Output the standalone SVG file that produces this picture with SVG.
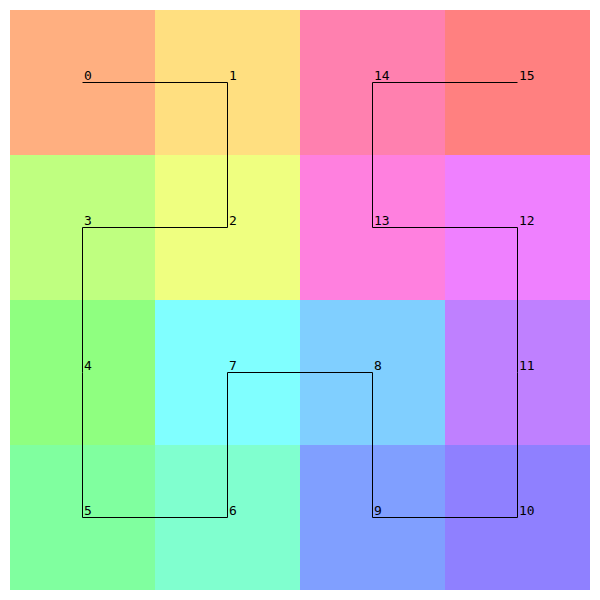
<svg xmlns="http://www.w3.org/2000/svg" width="600" height="600" viewBox="0 0 600 600">
<style>
.lbl{font-family:"DejaVu Sans Mono","Liberation Mono",monospace;font-size:13px;fill:#000}
.curve{fill:none;stroke:#000;stroke-width:1}
</style>
<rect width="600" height="600" fill="#fff"/>
<g id="cells">
<rect x="10" y="10" width="145" height="145" fill="hsl(22.5,100%,75%)"/>
<rect x="155" y="10" width="145" height="145" fill="hsl(45,100%,75%)"/>
<rect x="155" y="155" width="145" height="145" fill="hsl(67.5,100%,75%)"/>
<rect x="10" y="155" width="145" height="145" fill="hsl(90,100%,75%)"/>
<rect x="10" y="300" width="145" height="145" fill="hsl(112.5,100%,75%)"/>
<rect x="10" y="445" width="145" height="145" fill="hsl(135,100%,75%)"/>
<rect x="155" y="445" width="145" height="145" fill="hsl(157.5,100%,75%)"/>
<rect x="155" y="300" width="145" height="145" fill="hsl(180,100%,75%)"/>
<rect x="300" y="300" width="145" height="145" fill="hsl(202.5,100%,75%)"/>
<rect x="300" y="445" width="145" height="145" fill="hsl(225,100%,75%)"/>
<rect x="445" y="445" width="145" height="145" fill="hsl(247.5,100%,75%)"/>
<rect x="445" y="300" width="145" height="145" fill="hsl(270,100%,75%)"/>
<rect x="445" y="155" width="145" height="145" fill="hsl(292.5,100%,75%)"/>
<rect x="300" y="155" width="145" height="145" fill="hsl(315,100%,75%)"/>
<rect x="300" y="10" width="145" height="145" fill="hsl(337.5,100%,75%)"/>
<rect x="445" y="10" width="145" height="145" fill="hsl(360,100%,75%)"/>
</g>
<g id="connectors">
<polyline class="curve" points="82.5,82.5 227.5,82.5 227.5,227.5 82.5,227.5 82.5,372.5 82.5,517.5 227.5,517.5 227.5,372.5 372.5,372.5 372.5,517.5 517.5,517.5 517.5,372.5 517.5,227.5 372.5,227.5 372.5,82.5 517.5,82.5"/>
</g>
<g id="n0"><text class="lbl" x="84" y="80">0</text></g>
<g id="n1"><text class="lbl" x="229" y="80">1</text></g>
<g id="n2"><text class="lbl" x="229" y="225">2</text></g>
<g id="n3"><text class="lbl" x="84" y="225">3</text></g>
<g id="n4"><text class="lbl" x="84" y="370">4</text></g>
<g id="n5"><text class="lbl" x="84" y="515">5</text></g>
<g id="n6"><text class="lbl" x="229" y="515">6</text></g>
<g id="n7"><text class="lbl" x="229" y="370">7</text></g>
<g id="n8"><text class="lbl" x="374" y="370">8</text></g>
<g id="n9"><text class="lbl" x="374" y="515">9</text></g>
<g id="n10"><text class="lbl" x="519" y="515">10</text></g>
<g id="n11"><text class="lbl" x="519" y="370">11</text></g>
<g id="n12"><text class="lbl" x="519" y="225">12</text></g>
<g id="n13"><text class="lbl" x="374" y="225">13</text></g>
<g id="n14"><text class="lbl" x="374" y="80">14</text></g>
<g id="n15"><text class="lbl" x="519" y="80">15</text></g>
</svg>
